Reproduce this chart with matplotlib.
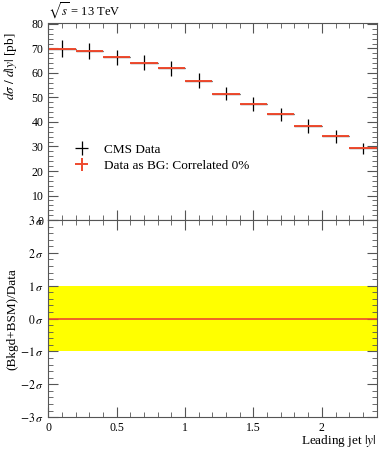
import numpy as np
import matplotlib
matplotlib.use("Agg")
from matplotlib import pyplot as plt
from matplotlib.ticker import MultipleLocator, FuncFormatter

plt.rcParams['font.family'] = ['Liberation Serif', 'DejaVu Serif']
plt.rcParams['mathtext.fontset'] = 'stix'

# bins in leading jet |y|
bin_lo = np.array([0.0, 0.2, 0.4, 0.6, 0.8, 1.0, 1.2, 1.4, 1.6, 1.8, 2.0, 2.2])
bin_hi = np.array([0.2, 0.4, 0.6, 0.8, 1.0, 1.2, 1.4, 1.6, 1.8, 2.0, 2.2, 2.4])
xsec = np.array([69.9, 68.9, 66.3, 64.2, 61.9, 56.9, 51.6, 47.4, 43.2, 38.5, 34.2, 29.3])
xsec_err = np.array([3.4, 3.4, 3.1, 3.1, 3.0, 3.0, 2.8, 2.9, 2.7, 2.8, 2.6, 2.2])
bg_zero = np.zeros(len(xsec))

xc = 0.5 * (bin_lo + bin_hi)
xw = 0.5 * (bin_hi - bin_lo)

red = '#ee4a2e'
frame = '#555555'
fs = 9.5

fig = plt.figure(figsize=(3.89, 4.5), dpi=100)
ax = fig.add_axes([0.124, 0.511, 0.844, 0.437])
rax = fig.add_axes([0.124, 0.073, 0.844, 0.438], sharex=ax)

ax.errorbar(xc, xsec, yerr=xsec_err, xerr=xw, fmt='none', ecolor='black',
            elinewidth=0.9, label='CMS Data')
ax.errorbar(xc, xsec, yerr=bg_zero, xerr=xw, fmt='none', ecolor=red,
            elinewidth=1.4, label='Data as BG: Correlated 0%')

ax.set_xlim(0, 2.4)
ax.set_ylim(0, 80.2)
ax.yaxis.set_major_locator(MultipleLocator(10))
ax.yaxis.set_minor_locator(MultipleLocator(2))
ax.xaxis.set_major_locator(MultipleLocator(0.5))
ax.xaxis.set_minor_locator(MultipleLocator(0.1))
ax.tick_params(labelbottom=False)
ax.set_ylabel(r'$d\sigma\ /\ d|y|$ [pb]', fontsize=fs)
ax.yaxis.set_label_coords(-0.09, 0.78)
ax.text(0.0, 1.012, r'$\sqrt{s}$ = 13 TeV', transform=ax.transAxes,
        fontsize=9, va='bottom', ha='left')

leg = ax.legend(loc='upper left', bbox_to_anchor=(0.02, 0.45), frameon=False,
                fontsize=fs, handlelength=2.3, handletextpad=0.5, labelspacing=0.3)

# ratio panel
rax.axhspan(-1, 1, color='#ffff00', lw=0)
rax.axhline(0, color=red, lw=1.2)
rax.set_ylim(-3, 3)
rax.yaxis.set_major_locator(MultipleLocator(1))
rax.yaxis.set_minor_locator(MultipleLocator(0.2))
rax.yaxis.set_major_formatter(FuncFormatter(lambda v, p: r'$%d\,\sigma$' % round(v)))
rax.set_ylabel('(Bkgd+BSM)/Data', fontsize=fs)
rax.yaxis.set_label_coords(-0.09, 0.5)
rax.set_xlabel(r'Leading jet $|y|$', fontsize=fs)
rax.xaxis.set_label_coords(1.0, -0.08)
rax.xaxis.label.set_horizontalalignment('right')
rax.xaxis.set_major_formatter(FuncFormatter(lambda v, p: '%g' % v))

for a in (ax, rax):
    for s in a.spines.values():
        s.set_color(frame)
        s.set_linewidth(0.8)
    a.tick_params(which='both', direction='in', top=True, right=True,
                  colors=frame, labelcolor='black', labelsize=8.5)
    a.tick_params(which='major', length=7, width=0.8)
    a.tick_params(which='minor', length=3.5, width=0.6)

fig.savefig('out.png', dpi=100)
